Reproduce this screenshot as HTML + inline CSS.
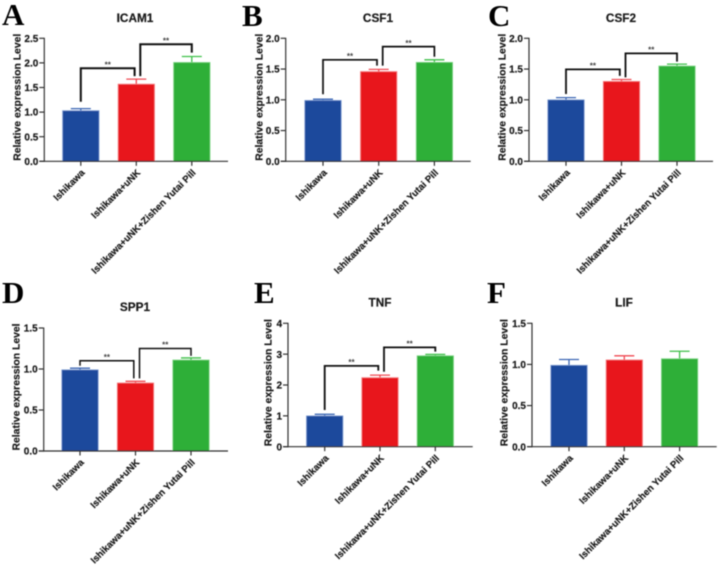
<!DOCTYPE html>
<html lang="en">
<head>
<meta charset="utf-8">
<title>Relative expression levels</title>
<style>
html,body{margin:0;padding:0;background:#fff;width:719px;height:567px;overflow:hidden}
svg{display:block}
text{font-family:"Liberation Sans",sans-serif;font-weight:bold;fill:#1a1a1a;stroke:#1a1a1a;stroke-width:0.2px}
.letter{font-family:"Liberation Serif",serif;font-size:31px;fill:#000;stroke:none}
</style>
</head>
<body>
<svg id="figure" width="719" height="567" viewBox="0 0 719 567" xmlns="http://www.w3.org/2000/svg">
<defs><filter id="soft" x="-2%" y="-2%" width="104%" height="104%"><feGaussianBlur stdDeviation="0.45"/></filter></defs>
<g id="root" filter="url(#soft)"></g>
</svg>
<script>
const categories = ['Ishikawa', 'Ishikawa+uNK', 'Ishikawa+uNK+Zishen Yutai Pill'];
const panelLetters = ['A', 'B', 'C', 'D', 'E', 'F'];
const panelTitles = ['ICAM1', 'CSF1', 'CSF2', 'SPP1', 'TNF', 'LIF'];
const yAxisTitle = 'Relative expression Level';

const ticksA = ['0.0', '0.5', '1.0', '1.5', '2.0', '2.5'];
const ticksB = ['0.0', '0.5', '1.0', '1.5', '2.0'];
const ticksC = ['0.0', '0.5', '1.0', '1.5', '2.0'];
const ticksD = ['0.0', '0.5', '1.0', '1.5'];
const ticksE = ['0', '1', '2', '3', '4'];
const ticksF = ['0.0', '0.5', '1.0', '1.5'];

const meansA = [1.03, 1.57, 2.01];
const meansB = [0.99, 1.46, 1.61];
const meansC = [1.00, 1.30, 1.55];
const meansD = [0.99, 0.83, 1.11];
const meansE = [1.00, 2.24, 2.95];
const meansF = [0.99, 1.055, 1.07];

const errorTopsA = [1.07, 1.67, 2.13];
const errorTopsB = [1.01, 1.495, 1.65];
const errorTopsC = [1.035, 1.33, 1.58];
const errorTopsD = [1.01, 0.85, 1.135];
const errorTopsE = [1.05, 2.32, 2.99];
const errorTopsF = [1.06, 1.105, 1.16];

/* significance brackets, in value units: [top, left end, right end] */
const bracketsA = [[1.89, 1.21, 1.73], [2.38, 1.73, 2.21]];
const bracketsB = [[1.65, 1.09, 1.555], [1.865, 1.555, 1.70]];
const bracketsC = [[1.495, 1.095, 1.39], [1.755, 1.365, 1.62]];
const bracketsD = [[1.10, 1.04, 0.885], [1.25, 0.885, 1.16]];
const bracketsE = [[2.62, 1.19, 2.465], [3.22, 2.43, 3.08]];
const bracketsF = [];

const barColors = ['#1c4a9c', '#e8141c', '#2eaf38'];
const barEdges = ['#7f9fd6', '#f8878b', '#86dc8e'];
const errorColors = ['#3a66b4', '#f04a52', '#3cc048'];

/* page layout of each panel (not data) */
const layouts = [
  {left: 44.3, right: 228, top: 38.3, base: 161.3, cx0: 80.8, step: 55.5, lx: 2, ly: 25, tx: 135, ty: 22, yx: 20.5, bw: 2},
  {left: 285.7, right: 470.7, top: 38.3, base: 161.3, cx0: 323, step: 55.7, lx: 242, ly: 26, tx: 378, ty: 22, yx: 262.5, bw: 1.7},
  {left: 529, right: 713, top: 38.3, base: 161.3, cx0: 566, step: 55.5, lx: 488, ly: 26, tx: 621, ty: 22, yx: 505.5, bw: 1.8},
  {left: 43.7, right: 228, top: 328, base: 451, cx0: 80, step: 55.5, lx: 2, ly: 303, tx: 135, ty: 311, yx: 19.5, bw: 1.5},
  {left: 288, right: 472.7, top: 323.3, base: 446.7, cx0: 324.7, step: 55.3, lx: 254, ly: 303, tx: 380, ty: 306.5, yx: 271.5, bw: 1.8},
  {left: 532, right: 716.7, top: 323.3, base: 446.7, cx0: 569, step: 55.3, lx: 487, ly: 303, tx: 624, ty: 306.5, yx: 507.5, bw: 1.4}
];
const tickSets = [ticksA, ticksB, ticksC, ticksD, ticksE, ticksF];
const meanSets = [meansA, meansB, meansC, meansD, meansE, meansF];
const errorSets = [errorTopsA, errorTopsB, errorTopsC, errorTopsD, errorTopsE, errorTopsF];
const bracketSets = [bracketsA, bracketsB, bracketsC, bracketsD, bracketsE, bracketsF];

const SVGNS = 'http://www.w3.org/2000/svg';
function make(parent, tag, attrs, content) {
  const el = document.createElementNS(SVGNS, tag);
  for (const k in attrs) el.setAttribute(k, attrs[k]);
  if (content !== undefined) el.textContent = content;
  parent.appendChild(el);
  return el;
}

const root = document.getElementById('root');
const BAR_WIDTH = 36.5;
const CAP_WIDTH = 20;

layouts.forEach(function (p, i) {
  const ticks = tickSets[i];
  const maxVal = parseFloat(ticks[ticks.length - 1]);
  const y = function (v) { return p.base - (v / maxVal) * (p.base - p.top); };
  const x = function (c) { return p.cx0 + c * p.step; };

  const g = make(root, 'g', {});
  
  

  const letter = make(g, 'text', {x: p.lx, y: p.ly, 'class': 'letter'}, panelLetters[i]);
  
  

  const title = make(g, 'text', {x: p.tx, y: p.ty, 'text-anchor': 'middle', 'font-size': 11.8}, panelTitles[i]);
  
  

  const yTitle = make(g, 'text', {
    transform: 'translate(' + p.yx + ',' + (p.base - 0.5) + ') rotate(-90)',
    'font-size': 10.4
  }, yAxisTitle);
  
  

  /* bars */
  meanSets[i].forEach(function (m, c) {
    const top = errorSets[i][c];
    const err = make(g, 'path', {
      d: 'M' + x(c) + ' ' + y(m) + 'V' + y(top) + 'M' + (x(c) - CAP_WIDTH / 2) + ' ' + y(top) + 'H' + (x(c) + CAP_WIDTH / 2),
      stroke: errorColors[c], 'stroke-width': 1.3, fill: 'none'
    });
    
    
    const bar = make(g, 'rect', {
      x: x(c) - BAR_WIDTH / 2, y: y(m), width: BAR_WIDTH, height: p.base - y(m),
      fill: barColors[c], stroke: barEdges[c], 'stroke-width': 0.7
    });
    
    
  });

  /* axes */
  const yAxis = make(g, 'path', {d: 'M' + p.left + ' ' + (p.top - 0.5) + 'V' + (p.base + 0.6), stroke: '#333', 'stroke-width': 1.2, fill: 'none'});
  
  
  const xAxis = make(g, 'path', {d: 'M' + (p.left - 5) + ' ' + p.base + 'H' + p.right, stroke: '#333', 'stroke-width': 1.2, fill: 'none'});
  
  

  ticks.forEach(function (t) {
    const v = parseFloat(t);
    const tick = make(g, 'path', {d: 'M' + (p.left - 5) + ' ' + y(v) + 'H' + p.left, stroke: '#333', 'stroke-width': 1.2});
    
    
    const label = make(g, 'text', {x: p.left - 6, y: y(v) + 3.6, 'text-anchor': 'end', 'font-size': 10}, t);
    
    
  });

  categories.forEach(function (name, c) {
    const tick = make(g, 'path', {d: 'M' + x(c) + ' ' + p.base + 'v4.5', stroke: '#333', 'stroke-width': 1.2});
    
    
    const label = make(g, 'text', {
      transform: 'translate(' + (x(c) + 4.5) + ',' + (p.base + 12) + ') rotate(-45)',
      'text-anchor': 'end', 'font-size': 9.5
    }, name);
    
    
  });

  /* significance brackets */
  bracketSets[i].forEach(function (b, k) {
    const xl = x(k) + (k === 0 ? 0 : 4);
    const xr = x(k + 1) - (k === 0 ? 1.7 : 0);
    const br = make(g, 'path', {
      d: 'M' + xl + ' ' + y(b[1]) + 'V' + y(b[0]) + 'H' + xr + 'V' + y(b[2]),
      stroke: '#111', 'stroke-width': p.bw, fill: 'none'
    });
    
    
    const star = make(g, 'text', {x: (xl + xr) / 2, y: y(b[0]) - 0.8, 'text-anchor': 'middle', 'font-size': 8, style: 'fill:#444;stroke:none'}, '**');
    
    
  });
});
</script>
</body>
</html>
